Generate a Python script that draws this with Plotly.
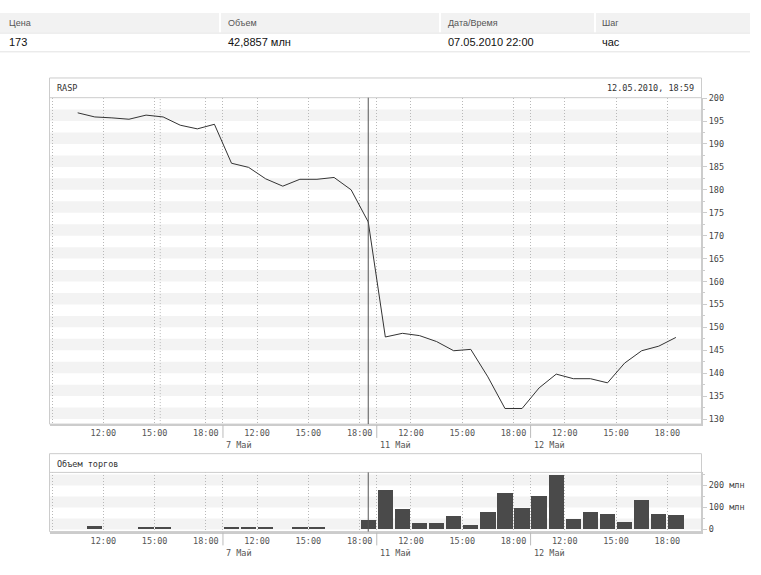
import plotly.graph_objects as go

W, H = 761, 575

# hourly slots per trading day (10:00 ... 18:00)
hours = [10, 11, 12, 13, 14, 15, 16, 17, 18]
days = ["6 Май", "7 Май", "11 Май", "12 Май"]
tick_hours = [12, 15, 18]

# closing price per hour
price = [
    196.8, 195.9, 195.7, 195.4, 196.3, 195.9, 194.1, 193.3, 194.3,
    185.8, 184.9, 182.4, 180.8, 182.3, 182.3, 182.7, 180.0, 173.0,
    147.9, 148.7, 148.2, 146.9, 144.9, 145.2, 139.2, 132.3, 132.3,
    136.8, 139.8, 138.8, 138.8, 137.9, 142.2, 144.9, 145.9, 147.8,
]
# volume per hour, млн
volume = [
    0, 13, 0, 0, 6, 9, 0, 0, 0,
    5, 5, 10, 0, 5, 5, 0, 0, 43,
    178, 91, 27, 27, 59, 18, 76, 162, 94,
    148, 247, 46, 76, 67, 31, 130, 67, 63,
]

header_labels = ["Цена", "Объем", "Дата/Время", "Шаг"]
header_values = ["173", "42,8857 млн", "07.05.2010 22:00", "час"]
cursor_idx = 17

MONO = "DejaVu Sans Mono"
SANS = "Liberation Sans, Arial, sans-serif"
GRID = "#b8b8b8"
FRAME = "#cccccc"
BAND = "#f3f3f3"
DOTS = "1px,2px"


def fx(px):
    return px / W


def fy(py):
    return 1 - py / H


n = len(hours)
x = [d * n + (h - hours[0]) + 0.5 for d in range(len(days)) for h in hours]
bounds = [d * n for d in range(1, len(days))]

tickvals, ticktext = [-1], [""]
for d in range(len(days)):
    for h in tick_hours:
        tickvals.append(d * n + h - hours[0])
        ticktext.append(f"{h}:00")
for b in bounds:
    tickvals.append(b)
    ticktext.append("")

fig = go.Figure()
fig.add_trace(go.Scatter(x=x, y=price, mode="lines",
                         line=dict(color="#333333", width=1),
                         xaxis="x", yaxis="y", hoverinfo="x+y"))
fig.add_trace(go.Bar(x=x, y=volume, width=0.9,
                     marker=dict(color="#4a4a4a", line_width=0),
                     xaxis="x2", yaxis="y2"))

xcommon = dict(
    range=[-1.12, 36.97], tickmode="array", tickvals=tickvals, ticktext=ticktext,
    showgrid=True, gridcolor=GRID, griddash=DOTS, gridwidth=1,
    zeroline=False, showline=True, linecolor=FRAME, linewidth=2,
    ticks="", tickfont=dict(family=MONO, size=8.5, color="#555555"),
    domain=[fx(50), fx(701)], fixedrange=True,
)
fig.update_layout(
    width=W, height=H, autosize=False,
    margin=dict(l=0, r=0, t=0, b=0),
    paper_bgcolor="white", plot_bgcolor="white",
    showlegend=False, bargap=0,
    xaxis=dict(xcommon, anchor="y"),
    xaxis2=dict(xcommon, anchor="y2"),
    yaxis=dict(
        domain=[fy(425), fy(94)], range=[128.9, 200.1], side="right", anchor="x",
        tickvals=list(range(130, 201, 5)), ticks="outside", ticklen=4, tickcolor=FRAME,
        minor=dict(dtick=2.5, tick0=0, ticks="outside", ticklen=2, tickcolor=FRAME),
        showgrid=False, zeroline=False, showline=True, linecolor=FRAME, linewidth=2,
        tickfont=dict(family=MONO, size=8.5, color="#444444"),
    ),
    yaxis2=dict(
        domain=[fy(534), fy(474)], range=[-10, 259], side="right", anchor="x2",
        tickvals=[0, 100, 200], ticktext=["0", "100 млн", "200 млн"],
        ticks="outside", ticklen=4, tickcolor=FRAME,
        minor=dict(tickvals=[50, 150, 250], ticks="outside", ticklen=2, tickcolor=FRAME),
        showgrid=False, zeroline=False, showline=True, linecolor=FRAME, linewidth=2,
        tickfont=dict(family=MONO, size=8.5, color="#444444"),
    ),
)

shapes = []
# header table
cells = [(0, 219), (221, 439), (441, 594), (596, 750)]
for x0, x1 in cells:
    shapes.append(dict(type="rect", xref="paper", yref="paper", x0=fx(x0), x1=fx(x1),
                       y0=fy(28), y1=fy(8), fillcolor="#f2f2f2", line_width=0))
for yy in (28.5, 47.5):
    shapes.append(dict(type="line", xref="paper", yref="paper", x0=0, x1=fx(750),
                       y0=fy(yy), y1=fy(yy), line=dict(color="#e2e2e2", width=1)))

# background bands
for k in range(14):
    lo = 130 + 5 * k
    shapes.append(dict(type="rect", xref="x domain", yref="y", x0=0, x1=1,
                       y0=lo, y1=lo + 2.5, fillcolor=BAND, line_width=0, layer="below"))
for lo in (0, 100, 200):
    shapes.append(dict(type="rect", xref="x2 domain", yref="y2", x0=0, x1=1,
                       y0=lo, y1=lo + 50, fillcolor=BAND, line_width=0, layer="below"))

# extra dotted line in price panel
shapes.append(dict(type="line", xref="x", yref="y domain", x0=5.33, x1=5.33, y0=0, y1=1,
                   line=dict(color=GRID, width=1, dash=DOTS), layer="below"))

# panel frames and header separators
for top, sep, bot in ((74, 94, 425), (455, 474, 534)):
    shapes.append(dict(type="rect", xref="paper", yref="paper", x0=fx(49.5), x1=fx(701.5),
                       y0=fy(bot), y1=fy(top), line=dict(color=FRAME, width=1)))
    shapes.append(dict(type="line", xref="paper", yref="paper", x0=fx(49.5), x1=fx(701.5),
                       y0=fy(sep), y1=fy(sep), line=dict(color=FRAME, width=1)))

# day boundary ticks under the axes
for b in bounds:
    shapes.append(dict(type="line", xref="x", yref="paper", x0=b, x1=b,
                       y0=fy(426), y1=fy(439), line=dict(color="#bbbbbb", width=1)))
    shapes.append(dict(type="line", xref="x2", yref="paper", x0=b, x1=b,
                       y0=fy(535), y1=fy(548), line=dict(color="#bbbbbb", width=1)))

# cursor
cx = x[cursor_idx]
shapes.append(dict(type="line", xref="x", yref="paper", x0=cx, x1=cx,
                   y0=fy(425), y1=fy(94), line=dict(color="#555555", width=1)))
shapes.append(dict(type="line", xref="x2", yref="paper", x0=cx, x1=cx,
                   y0=fy(534), y1=fy(474), line=dict(color="#555555", width=1)))

annotations = []
col_x = [7, 226, 446, 600]
for cxp, lab, val in zip(col_x, header_labels, header_values):
    annotations.append(dict(text=lab, x=fx(cxp), y=fy(18), xref="paper", yref="paper",
                            xanchor="left", yanchor="middle", showarrow=False,
                            font=dict(family=SANS, size=9, color="#555555")))
    annotations.append(dict(text=val, x=fx(cxp), y=fy(38), xref="paper", yref="paper",
                            xanchor="left", yanchor="middle", showarrow=False,
                            font=dict(family=SANS, size=11, color="#111111")))

mono = dict(family=MONO, size=8.5, color="#333333")
annotations += [
    dict(text="RASP", x=fx(55), y=fy(84.5), xref="paper", yref="paper",
         xanchor="left", yanchor="middle", showarrow=False, font=mono),
    dict(text="12.05.2010, 18:59", x=fx(696), y=fy(84.5), xref="paper", yref="paper",
         xanchor="right", yanchor="middle", showarrow=False, font=mono),
    dict(text="Объем торгов", x=fx(55), y=fy(465), xref="paper", yref="paper",
         xanchor="left", yanchor="middle", showarrow=False, font=mono),
]
for b, name in zip(bounds, days[1:]):
    for xr, yy in (("x", 446.5), ("x2", 556)):
        annotations.append(dict(text=name, x=b, y=fy(yy), xref=xr, yref="paper",
                                xanchor="left", yanchor="middle", xshift=1, showarrow=False,
                                font=dict(family=MONO, size=8.5, color="#555555")))

fig.update_layout(shapes=shapes, annotations=annotations)
fig.write_html(
    "out.html",
    config={"displayModeBar": False},
    post_script="document.body.style.margin='0';document.body.style.overflow='hidden';",
)
